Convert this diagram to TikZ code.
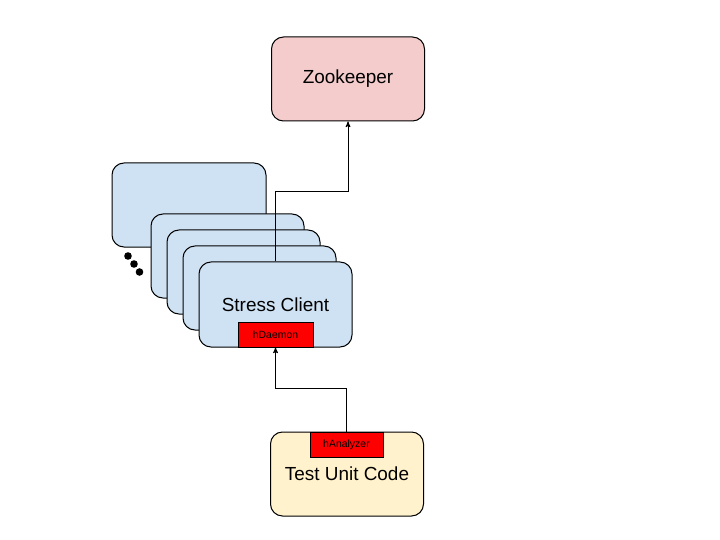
\documentclass[tikz,border=0pt]{standalone}
\usepackage{fontspec}
\setmainfont{Liberation Sans}
\usetikzlibrary{arrows}

\definecolor{zkpink}{HTML}{F4CCCC}
\definecolor{scblue}{HTML}{CFE2F3}
\definecolor{tuyellow}{HTML}{FFF2CC}

\tikzset{
    box/.style={draw,line width=1bp,rounded corners=12bp,minimum width=153bp,
        minimum height=84bp,font=\fontsize{19}{21}\selectfont},
    tag/.style={draw,line width=1bp,fill=red,minimum height=25bp,inner sep=0pt,
        font=\fontsize{10.5}{12}\selectfont},
    link/.style={->,line width=1bp,>=stealth'}
}

\begin{document}
\begin{tikzpicture}[x=1bp,y=-1bp]
\useasboundingbox (0,0) rectangle (720,540);

\node[box,fill=zkpink] (zk) at (348,79){Zookeeper};

% stack of stress clients
\node[box,fill=scblue,minimum width=154bp] (sc0) at (189,205){};
\foreach \i/\x/\y in {1/227.5/256,2/243.5/272,3/259.5/288}
    \node[box,fill=scblue] (sc\i) at (\x,\y){};
\node[box,fill=scblue,minimum height=85bp] (sc) at (275.5,304.5){Stress Client};
\node[tag,minimum width=75bp] (hd) at (275.5,334.5){hDaemon};

\foreach \x/\y in {128/256,134/264,139.5/272}
    \fill (\x,\y) circle (3.8bp);

\node[box,fill=tuyellow] (tu) at (347,474){Test Unit Code};
\node[tag,minimum width=73bp] (ha) at (346.5,444.5){hAnalyzer};

\draw[link] (sc.north) -- ++(0,-70) -| (zk.south);
\draw[link] (ha.north) -- ++(0,-43) -| (hd.south);

\end{tikzpicture}
\end{document}
